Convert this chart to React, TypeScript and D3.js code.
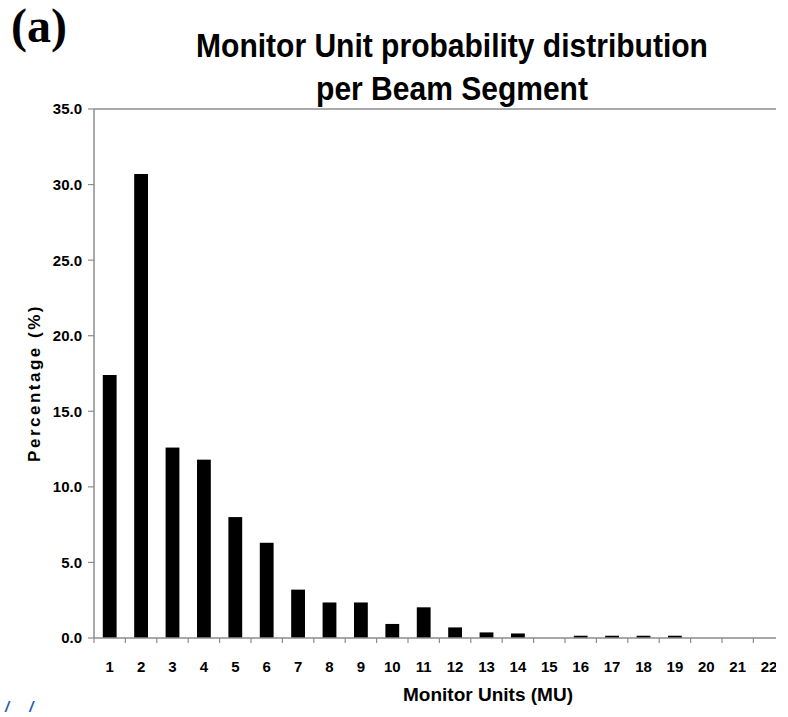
import React from "react";
import * as d3 from "d3";

const categories: string[] = ["1","2","3","4","5","6","7","8","9","10","11","12","13","14","15","16","17","18","19","20","21","22"];
const percentages: number[] = [17.4, 30.7, 12.6, 11.8, 8.0, 6.3, 3.2, 2.35, 2.35, 0.93, 2.03, 0.7, 0.37, 0.3, 0, 0.15, 0.15, 0.15, 0.15, 0, 0, 0];
const yTicks: number[] = [0, 5, 10, 15, 20, 25, 30, 35];

const W = 788;
const H = 717;
const left = 94;
const right = 784.8;
const top = 109;
const bottom = 638;
const clipRight = 776;
const font = "'Liberation Sans', Arial, Helvetica, sans-serif";

export default function App() {
  const x = d3.scaleBand<string>().domain(categories).range([left, right]).paddingInner(0.56).paddingOuter(0.28);
  const y = d3.scaleLinear().domain([0, 35]).range([bottom, top]);
  const step = x.step();
  const axisColor = "#8c8c8c";

  return (
    <svg width={W} height={H} style={{ position: "absolute", left: 0, top: 0, background: "#fff" }} fontFamily={font}>
      <defs>
        <clipPath id="plotclip">
          <rect x={0} y={0} width={clipRight} height={H} />
        </clipPath>
      </defs>
      <rect x={0} y={0} width={W} height={H} fill="#fff" />
      <text x={11} y={42} fontFamily="'Liberation Serif', 'Times New Roman', serif" fontWeight="bold" fontSize={48}>(a)</text>
      <text transform="translate(452,57) scale(0.91,1)" textAnchor="middle" fontWeight="bold" fontSize={33}>Monitor Unit probability distribution</text>
      <text transform="translate(452,100) scale(0.91,1)" textAnchor="middle" fontWeight="bold" fontSize={33}>per Beam Segment</text>

      <g clipPath="url(#plotclip)">
        {/* top frame line */}
        <line x1={left} x2={W} y1={y(35)} y2={y(35)} stroke={axisColor} strokeWidth={1.5} />
        {/* y axis */}
        <line x1={left} x2={left} y1={y(35)} y2={y(0)} stroke={axisColor} strokeWidth={1.5} />
        {yTicks.map((t) => (
          <g key={t}>
            <line x1={left - 6} x2={left} y1={y(t)} y2={y(t)} stroke={axisColor} strokeWidth={1.2} />
            <text x={82} y={y(t)} dy="0.36em" textAnchor="end" fontWeight="bold" fontSize={15}>{t.toFixed(1)}</text>
          </g>
        ))}
        {/* bars */}
        {categories.map((c, i) => (
          percentages[i] > 0 ? (
            <rect key={c} x={x(c)!} y={y(percentages[i])} width={x.bandwidth()} height={y(0) - y(percentages[i])} fill="#000" />
          ) : null
        ))}
        {/* x axis */}
        <line x1={left} x2={W} y1={y(0)} y2={y(0)} stroke={axisColor} strokeWidth={1.5} />
        {categories.map((c) => {
          const bx = (x(c)! + x.bandwidth() / 2) - step / 2;
          return <line key={"t" + c} x1={bx} x2={bx} y1={y(0)} y2={y(0) + 5} stroke={axisColor} strokeWidth={1.2} />;
        })}
        {categories.map((c) => (
          <text key={"l" + c} x={x(c)! + x.bandwidth() / 2} y={672} textAnchor="middle" fontWeight="bold" fontSize={15}>{c}</text>
        ))}
      </g>

      <text x={488} y={701} textAnchor="middle" fontWeight="bold" fontSize={19}>Monitor Units (MU)</text>
      <text transform="translate(40, 383) rotate(-90)" textAnchor="middle" fontWeight="bold" fontSize={17} letterSpacing={2.5}>Percentage (%)</text>

      <text x={5} y={712} fontWeight="bold" fontStyle="italic" fontSize={15} fill="#1f5bb5" letterSpacing={8}>/ /</text>
    </svg>
  );
}
